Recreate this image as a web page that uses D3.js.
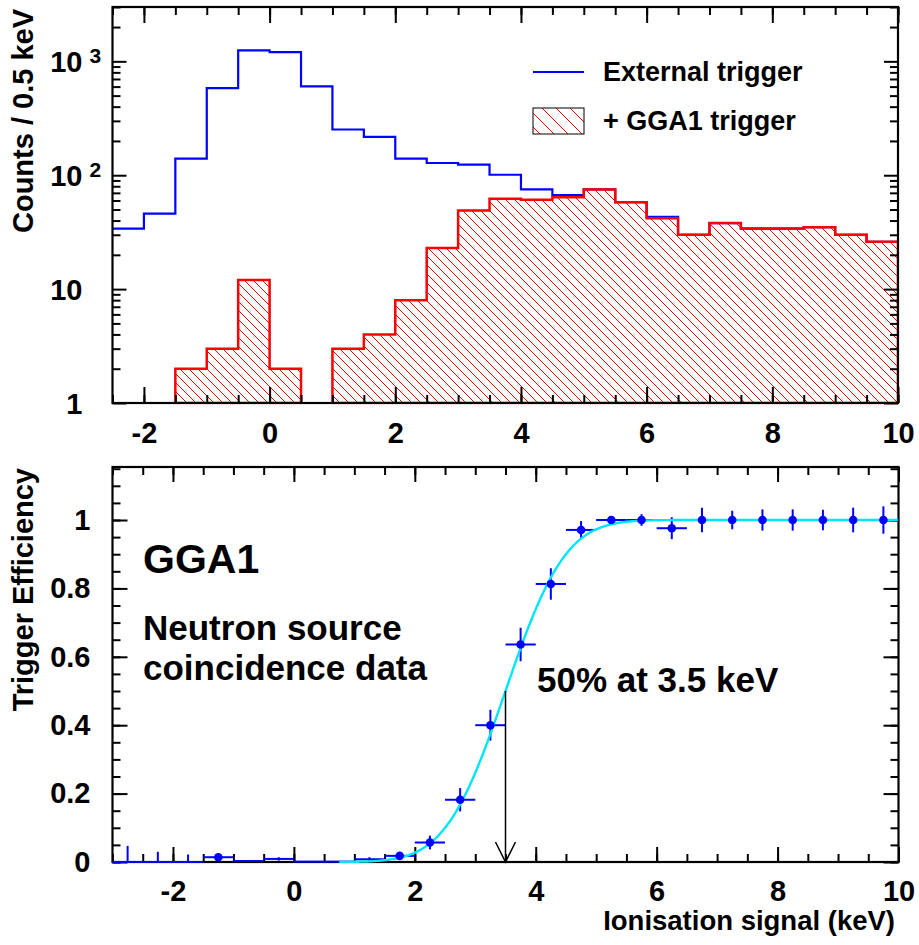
<!DOCTYPE html>
<html>
<head>
<meta charset="utf-8">
<script src="https://cdn.jsdelivr.net/npm/d3@7"></script>
<style>
  body { margin: 0; background: #fff; }
  svg text { font-family: "Liberation Sans", Arial, Helvetica, sans-serif; font-weight: bold; fill: #000; }
</style>
</head>
<body>
<svg id="chart" width="919" height="945"></svg>
<script>
// ---------- Data ----------
// Ionisation spectrum, 0.5 keV bins starting at -2.5 keV
const binStart = -2.5;
const binWidth = 0.5;
const externalCounts = [34, 46, 140, 583, 1250, 1207, 604, 252, 217, 140, 128, 124, 101,
                        75, 67, 75, 58, 43, 30, 38, 34, 34, 35, 30, 26];
const gga1Counts     = [0, 0, 2, 3, 12, 2, 0, 3, 4, 8, 23, 49, 62,
                        61, 64, 75, 58, 42, 30, 38, 34, 34, 35, 30, 26];

// Trigger efficiency per 0.5 keV bin
const effCenters = [-2.75, -2.25, -1.75, -1.25, -0.75, -0.25, 0.25, 0.75, 1.25, 1.75, 2.25, 2.75, 3.25,
                    3.75, 4.25, 4.75, 5.25, 5.75, 6.25, 6.75, 7.25, 7.75, 8.25, 8.75, 9.25, 9.75];
const effValues  = [0, 0, 0, 0.014, 0.003, 0.009, 0.001, 0.001, 0.008, 0.018, 0.057, 0.182, 0.40,
                    0.636, 0.813, 0.971, 1.0, 1.0, 0.976, 1.0, 1.0, 1.0, 1.0, 1.0, 1.0, 1.0];
const effErrors  = [0.047, 0.03, 0.022, 0.008, 0.003, 0.005, 0.001, 0.001, 0.006, 0.008, 0.02, 0.034, 0.045,
                    0.049, 0.046, 0.026, 0.005, 0.017, 0.032, 0.036, 0.027, 0.031, 0.031, 0.03, 0.036, 0.04];
const effHalfWidth = 0.25;

// Error-function fit: threshold (50 %) and width, in keV
const fitThreshold = 3.5;
const fitSigma = 0.78;
const fitRange = [0.75, 10];

// Axis ticks and labels
const topXMajor = [-2, 0, 2, 4, 6, 8, 10];
const topYMajor = [1, 10, 100, 1000];
const botXMajor = [-2, 0, 2, 4, 6, 8, 10];
const botYMajor = [0, 0.2, 0.4, 0.6, 0.8, 1];
const legendLabels = ["External trigger", "+ GGA1 trigger"];

// ---------- Layout ----------
const svg = d3.select("#chart");
const P1 = { l: 112.5, r: 898, t: 7, b: 403 };
const P2 = { l: 112.5, r: 898.5, t: 467, b: 862 };

const x1 = d3.scaleLinear().domain([-2.5, 10]).range([P1.l, P1.r]);
const y1 = d3.scaleLog().domain([1, 3000]).range([P1.b, P1.t]);
const x2 = d3.scaleLinear().domain([-3, 10]).range([P2.l, P2.r]);
const y2 = d3.scaleLinear().domain([0, 1.155]).range([P2.b, P2.t]);

const plainNum = d => String(d);   // hyphen-minus, as on the axis labels

const defs = svg.append("defs");
function hatch(id, s) {
  defs.append("pattern").attr("id", id).attr("patternUnits", "userSpaceOnUse")
    .attr("width", s).attr("height", s)
    .append("path")
    .attr("d", `M-2,-2 L${s + 2},${s + 2} M-2,${s - 2} L2,${s + 2} M${s - 2},-2 L${s + 2},2`)
    .attr("stroke", "#ff0000").attr("stroke-width", 1).attr("fill", "none");
}
hatch("hatchHist", 9);
hatch("hatchLegend", 14);

defs.append("clipPath").attr("id", "clip1").append("rect")
  .attr("x", P1.l).attr("y", P1.t).attr("width", P1.r - P1.l).attr("height", P1.b - P1.t);

// ---------- Top panel: spectra ----------
const g1 = svg.append("g");
const edges = externalCounts.map((_, i) => [binStart + i * binWidth, binStart + (i + 1) * binWidth]);

const stepPts = [];
externalCounts.forEach((v, i) => {
  stepPts.push([x1(edges[i][0]), y1(v)], [x1(edges[i][1]), y1(v)]);
});
g1.append("path").attr("clip-path", "url(#clip1)")
  .attr("d", d3.line()(stepPts))
  .attr("fill", "none").attr("stroke", "#0000ff").attr("stroke-width", 2.2);

// GGA1-triggered histogram: one hatched polygon per run of non-empty bins
const runs = [];
let cur = null;
gga1Counts.forEach((v, i) => {
  if (v > 0) { if (!cur) { cur = []; runs.push(cur); } cur.push(i); }
  else cur = null;
});
runs.forEach(run => {
  const pts = [[x1(edges[run[0]][0]), y1(1)]];
  run.forEach(i => {
    pts.push([x1(edges[i][0]), y1(gga1Counts[i])], [x1(edges[i][1]), y1(gga1Counts[i])]);
  });
  pts.push([x1(edges[run[run.length - 1]][1]), y1(1)]);
  g1.append("path").attr("clip-path", "url(#clip1)")
    .attr("d", d3.line()(pts) + "Z")
    .attr("fill", "url(#hatchHist)").attr("stroke", "#ff0000").attr("stroke-width", 2.5)
    .attr("stroke-linejoin", "miter");
});

// Axes of the top panel (ticks point inward, ROOT style)
function range(a, b, s) { return d3.range(a, b + s / 2, s).map(v => +v.toFixed(6)); }
function drawAxis(g, axis, tx, ty) {
  const a = g.append("g").attr("transform", `translate(${tx},${ty})`).call(axis);
  a.select(".domain").remove();
  a.selectAll(".tick line").attr("stroke", "#000").attr("stroke-width", 2);
  a.selectAll(".tick text").attr("font-size", 29).attr("font-family", null);
  return a;
}
const logMinor = [];
[1, 10, 100, 1000].forEach(d => { for (let k = 2; k <= 9; k++) if (k * d <= 3000) logMinor.push(k * d); });

drawAxis(g1, d3.axisBottom(x1).tickValues(range(-2.5, 10, 0.5)).tickSize(-8).tickFormat(""), 0, P1.b);
drawAxis(g1, d3.axisTop(x1).tickValues(range(-2.5, 10, 0.5)).tickSize(-8).tickFormat(""), 0, P1.t);
drawAxis(g1, d3.axisBottom(x1).tickValues(topXMajor).tickSize(-16).tickPadding(19).tickFormat(plainNum), 0, P1.b);
drawAxis(g1, d3.axisTop(x1).tickValues(topXMajor).tickSize(-16).tickFormat(""), 0, P1.t);
drawAxis(g1, d3.axisLeft(y1).tickValues(logMinor).tickSize(-8).tickFormat(""), P1.l, 0);
drawAxis(g1, d3.axisRight(y1).tickValues(logMinor).tickSize(-8).tickFormat(""), P1.r, 0);
drawAxis(g1, d3.axisRight(y1).tickValues(topYMajor).tickSize(-14).tickFormat(""), P1.r, 0);
const yAx1 = drawAxis(g1, d3.axisLeft(y1).tickValues(topYMajor).tickSize(-14).tickFormat(""), P1.l, 0);
yAx1.selectAll(".tick").each(function (d) {
  const t = d3.select(this);
  const e = Math.round(Math.log10(d));
  const base = e >= 2 ? "10" : String(d);
  t.append("text").attr("x", -30).attr("y", 10.5).attr("text-anchor", "end")
    .attr("font-size", 29).text(base);
  if (e >= 2) {
    t.append("text").attr("x", -23).attr("y", 1.5).attr("text-anchor", "start")
      .attr("font-size", 21).text(String(e));
  }
});

g1.append("rect").attr("x", P1.l).attr("y", P1.t).attr("width", P1.r - P1.l).attr("height", P1.b - P1.t)
  .attr("fill", "none").attr("stroke", "#000").attr("stroke-width", 2.2);

svg.append("text").attr("transform", "translate(33,9) rotate(-90)").attr("text-anchor", "end")
  .attr("font-size", 29).text("Counts / 0.5 keV");

// Legend
const lg = svg.append("g");
lg.append("line").attr("x1", 533).attr("x2", 584).attr("y1", 72).attr("y2", 72)
  .attr("stroke", "#0000ff").attr("stroke-width", 2.2);
lg.append("rect").attr("x", 533).attr("y", 108).attr("width", 51).attr("height", 26)
  .attr("fill", "url(#hatchLegend)").attr("stroke", "#000").attr("stroke-width", 1);
lg.append("text").attr("x", 603).attr("y", 81).attr("font-size", 27).text(legendLabels[0]);
lg.append("text").attr("x", 603).attr("y", 130).attr("font-size", 27).text(legendLabels[1]);

// ---------- Bottom panel: efficiency ----------
const g2 = svg.append("g");
drawAxis(g2, d3.axisBottom(x2).tickValues(range(-3, 10, 0.5)).tickSize(-8).tickFormat(""), 0, P2.b);
drawAxis(g2, d3.axisTop(x2).tickValues(range(-3, 10, 0.5)).tickSize(-8).tickFormat(""), 0, P2.t);
drawAxis(g2, d3.axisBottom(x2).tickValues(botXMajor).tickSize(-15).tickPadding(18).tickFormat(plainNum), 0, P2.b);
drawAxis(g2, d3.axisTop(x2).tickValues(botXMajor).tickSize(-15).tickFormat(""), 0, P2.t);
drawAxis(g2, d3.axisLeft(y2).tickValues(range(0, 1.15, 0.05)).tickSize(-8).tickFormat(""), P2.l, 0);
drawAxis(g2, d3.axisRight(y2).tickValues(range(0, 1.15, 0.05)).tickSize(-8).tickFormat(""), P2.r, 0);
drawAxis(g2, d3.axisRight(y2).tickValues(botYMajor).tickSize(-15).tickFormat(""), P2.r, 0);
drawAxis(g2, d3.axisLeft(y2).tickValues(botYMajor).tickSize(-15).tickPadding(22)
  .tickFormat(d => (d === 0 || d === 1) ? String(d) : d.toFixed(1)), P2.l, 0);

g2.append("rect").attr("x", P2.l).attr("y", P2.t).attr("width", P2.r - P2.l).attr("height", P2.b - P2.t)
  .attr("fill", "none").attr("stroke", "#000").attr("stroke-width", 2.2);

svg.append("text").attr("transform", "translate(33,468) rotate(-90)").attr("text-anchor", "end")
  .attr("font-size", 29).text("Trigger Efficiency");
svg.append("text").attr("x", 895).attr("y", 930).attr("text-anchor", "end")
  .attr("font-size", 27.5).text("Ionisation signal (keV)");

// Error bars
const eb = g2.append("g").attr("stroke", "#0000ff").attr("stroke-width", 2);
effCenters.forEach((c, i) => {
  const v = effValues[i], e = effErrors[i];
  eb.append("line").attr("x1", x2(c - effHalfWidth)).attr("x2", x2(c + effHalfWidth))
    .attr("y1", y2(v)).attr("y2", y2(v));
  eb.append("line").attr("x1", x2(c)).attr("x2", x2(c))
    .attr("y1", y2(Math.max(0, v - e))).attr("y2", y2(v + e));
});

// Fit curve
function erf(z) {
  const s = Math.sign(z), a = Math.abs(z);
  const t = 1 / (1 + 0.3275911 * a);
  const y = 1 - (((((1.061405429 * t - 1.453152027) * t) + 1.421413741) * t - 0.284496736) * t + 0.254829592) * t * Math.exp(-a * a);
  return s * y;
}
const fitFn = x => 0.5 * (1 + erf((x - fitThreshold) / (Math.SQRT2 * fitSigma)));
const fitX = d3.range(fitRange[0], fitRange[1] + 0.001, 0.02);
g2.append("path")
  .attr("d", d3.line().x(d => x2(d)).y(d => y2(fitFn(d)))(fitX))
  .attr("fill", "none").attr("stroke", "#00e6f6").attr("stroke-width", 2.4);

// Markers (points lying on the axis are left as bare error bars)
g2.append("g").selectAll("circle")
  .data(effCenters.map((c, i) => [c, effValues[i]]).filter(d => d[1] > 0.012))
  .join("circle")
  .attr("cx", d => x2(d[0])).attr("cy", d => y2(d[1])).attr("r", 4.3)
  .attr("fill", "#0000ff");

// 50 % arrow
const ax = x2(fitThreshold);
g2.append("line").attr("x1", ax).attr("x2", ax).attr("y1", y2(0.5)).attr("y2", y2(0))
  .attr("stroke", "#000").attr("stroke-width", 1.5);
g2.append("path")
  .attr("d", `M${ax - 10},${y2(0) - 20} L${ax},${y2(0)} L${ax + 10},${y2(0) - 20}`)
  .attr("fill", "none").attr("stroke", "#000").attr("stroke-width", 1.5);

// Annotations
g2.append("text").attr("x", 143).attr("y", 573).attr("font-size", 41).text("GGA1");
g2.append("text").attr("x", 143).attr("y", 640).attr("font-size", 35).text("Neutron source");
g2.append("text").attr("x", 143).attr("y", 680).attr("font-size", 35).text("coincidence data");
g2.append("text").attr("x", 537).attr("y", 692).attr("font-size", 35).text("50% at 3.5 keV");
</script>
</body>
</html>
